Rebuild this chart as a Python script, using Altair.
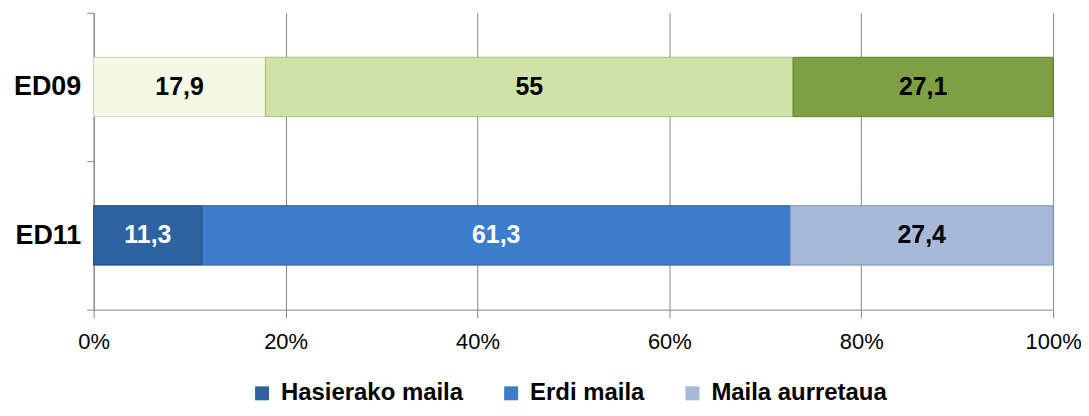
import altair as alt
import pandas as pd

rows = ["ED09", "ED09", "ED09", "ED11", "ED11", "ED11"]
keys = ["ED09 a", "ED09 b", "ED09 c", "Hasierako maila", "Erdi maila", "Maila aurretaua"]
values = [17.9, 55, 27.1, 11.3, 61.3, 27.4]
labels = ["17,9", "55", "27,1", "11,3", "61,3", "27,4"]
seg_order = [1, 2, 3, 1, 2, 3]
fill_colors = ["#F4F9E6", "#D0E2A8", "#7F9F44", "#2F62A0", "#3C7CCA", "#A6B9D8"]
stroke_colors = ["#C9D3B2", "#A9C080", "#5F7D2E", "#20477A", "#2B5F9E", "#7E93B5"]
text_colors = ["black", "black", "black", "white", "white", "black"]
legend_keys = ["Hasierako maila", "Erdi maila", "Maila aurretaua"]
x_ticks = [0, 0.2, 0.4, 0.6, 0.8, 1.0]

df = pd.DataFrame({
    "row": rows, "key": keys, "value": values, "label": labels,
    "ord": seg_order, "tc": text_colors,
})

base = alt.Chart(df).transform_stack(
    stack="value", groupby=["row"], as_=["v0", "v1"],
    sort=[alt.SortField("ord", order="ascending")],
).transform_calculate(
    x0="datum.v0/100", x1="datum.v1/100", xm="(datum.v0+datum.v1)/200"
)

yenc = alt.Y("row:N", sort=["ED09", "ED11"],
             scale=alt.Scale(paddingInner=0, paddingOuter=0),
             axis=alt.Axis(title=None, tickBand="extent", grid=False,
                           domainColor="#878787", tickColor="#878787", tickSize=7,
                           labelFont="Liberation Sans", labelFontWeight="bold",
                           labelFontSize=27, labelColor="black", labelPadding=6))

bars = base.mark_bar(strokeWidth=1, height=alt.RelativeBandSize(0.4)).encode(
    x=alt.X("x0:Q", scale=alt.Scale(domain=[0, 1], nice=False),
            axis=alt.Axis(title=None, format="%", values=x_ticks, grid=True,
                          gridColor="#878787", domainColor="#878787",
                          tickColor="#878787", tickSize=8, labelFlush=False,
                          labelFont="Liberation Sans", labelFontSize=22,
                          labelColor="black", labelPadding=14)),
    x2="x1:Q",
    y=yenc,
    color=alt.Color("key:N", scale=alt.Scale(domain=keys, range=fill_colors),
                    legend=alt.Legend(title=None, values=legend_keys, orient="none",
                                      legendX=157, legendY=370, direction="horizontal",
                                      symbolType="square", symbolSize=196,
                                      symbolStrokeWidth=0, labelLimit=0,
                                      labelFont="Liberation Sans", labelFontWeight="bold",
                                      labelFontSize=24, labelColor="black",
                                      columnPadding=36, labelOffset=7)),
    stroke=alt.Stroke("key:N", scale=alt.Scale(domain=keys, range=stroke_colors),
                      legend=None),
)

texts = base.mark_text(font="Liberation Sans", fontWeight="bold", fontSize=25,
                       baseline="middle").encode(
    x=alt.X("xm:Q"),
    y=alt.Y("row:N", sort=["ED09", "ED11"]),
    text="label:N",
    color=alt.Color("tc:N", scale=None),
)

chart = alt.layer(bars, texts).properties(
    width=963, height=298,
    autosize=alt.AutoSizeParams(type="none"),
    padding={"left": 86, "top": 4, "right": 28, "bottom": 104},
).configure_view(stroke=None).configure_axis(domainWidth=1, tickWidth=1)

chart.save("out.html", embed_options={"renderer": "svg", "actions": False})
